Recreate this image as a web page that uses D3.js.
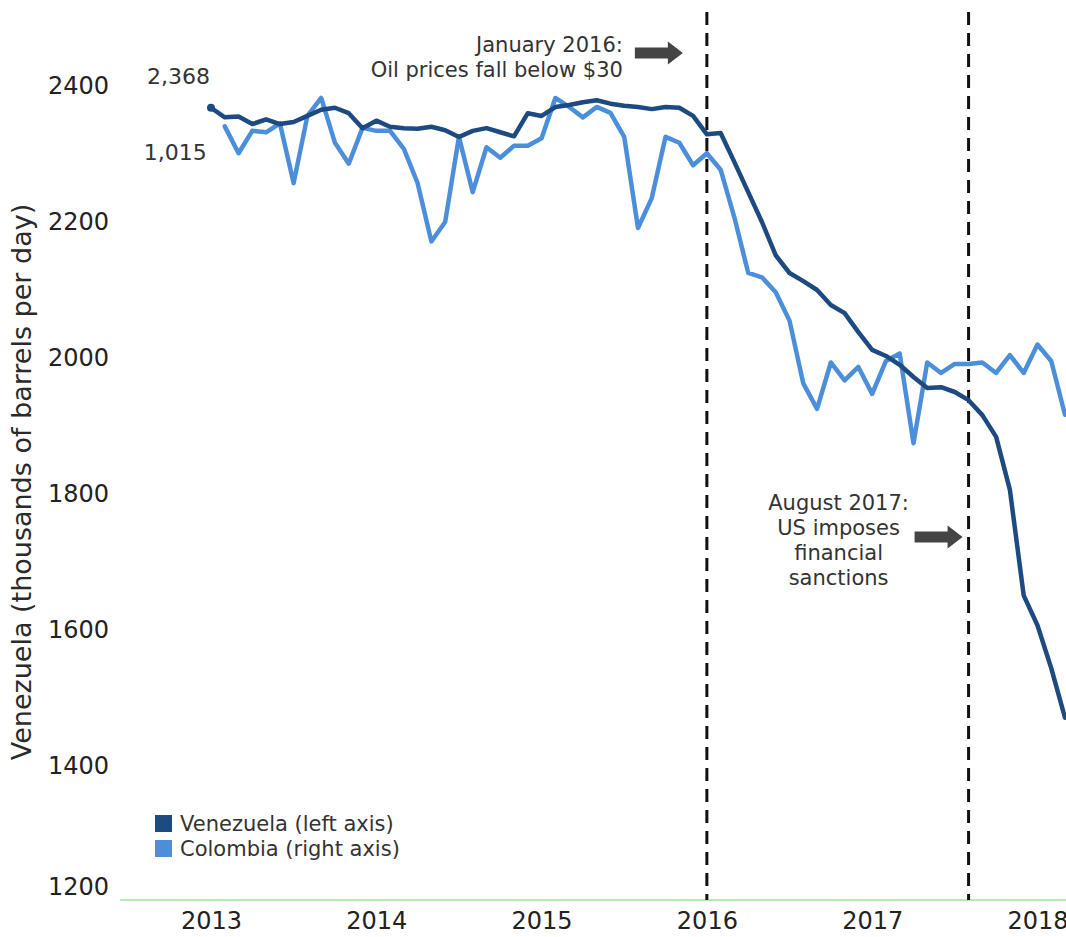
<!DOCTYPE html>
<html>
<head>
<meta charset="utf-8">
<script src="https://cdn.jsdelivr.net/npm/d3@7"></script>
<style>
  body { margin: 0; background: #fff; }
  svg { display: block; font-family: "DejaVu Sans", Verdana, sans-serif; }
</style>
</head>
<body>
<svg id="chart" width="1066" height="937"></svg>
<script>
var START_YEAR = 2013
var YEARS = [2013, 2014, 2015, 2016, 2017, 2018]
var LEFT_TICKS = [1200, 1400, 1600, 1800, 2000, 2200, 2400]

// monthly, Jan 2013 onward (thousand b/d)
var venezuela = [2368, 2354, 2355, 2344, 2351, 2344, 2347, 2356, 2365, 2368, 2360, 2338,
  2349, 2340, 2338, 2337, 2340, 2335, 2325, 2334, 2338, 2332, 2326, 2360,
  2356, 2369, 2372, 2376, 2379, 2374, 2371, 2369, 2366, 2369, 2368, 2356,
  2329, 2331, 2288, 2244, 2200, 2151, 2125, 2113, 2100, 2078, 2066, 2038,
  2012, 2003, 1990, 1972, 1956, 1957, 1950, 1938, 1916, 1884, 1806, 1651,
  1607, 1544, 1471]

var colombia = [null, 1015, 997, 1012, 1011, 1017, 977, 1022, 1034, 1004, 990, 1014,
  1012, 1012, 1000, 977, 938, 951, 1008, 971, 1001, 994, 1002, 1002,
  1007, 1034, 1028, 1021, 1028, 1024, 1008, 947, 967, 1008, 1004, 989,
  997, 986, 954, 917, 914, 904, 885, 843, 826, 857, 845, 854,
  836, 858, 863, 803, 857, 850, 856, 856, 857, 850, 862, 850,
  869, 858, 822]

var EVENTS = [
  { month: 36, lines: ["January 2016:", "Oil prices fall below $30"] },
  { month: 55, lines: ["August 2017:", "US imposes", "financial", "sanctions"] }
]

main()

function main() {
  var WIDTH = 1066
  var DARK = "#1d4a80"
  var LIGHT = "#4b8fdb"
  var TEXT = "#333"

  var svg = d3.select("#chart")

  var x = d3.scaleLinear().domain([0, 62]).range([211, 1065])
  var yLeft = d3.scaleLinear().domain([1200, 2400]).range([902, 86])
  var yRight = d3.scaleLinear().domain([496, 1042]).range([902, 86])

  // y axis (left)
  var gy = svg.append("g")
      .attr("transform", "translate(111,0)")
      .call(d3.axisLeft(yLeft).tickValues(LEFT_TICKS).tickFormat(d3.format("d"))
        .tickSize(0).tickPadding(2))
  gy.select(".domain").remove()
  gy.selectAll("text")
      .attr("font-size", 24)
      .attr("font-family", "DejaVu Sans, sans-serif")
      .attr("fill", "#222")
  gy.selectAll("text").filter(function(d) { return d === 1200 })
      .attr("dy", "-0.3em")

  svg.append("text")
      .attr("transform", "translate(31," + 482 + ") rotate(-90)")
      .attr("text-anchor", "middle")
      .attr("font-size", 27)
      .attr("fill", "#2a2a2a")
      .text("Venezuela (thousands of barrels per day)")

  // x axis
  var baseY = yLeft(1200) - 2
  svg.append("line")
      .attr("x1", 120)
      .attr("x2", WIDTH)
      .attr("y1", baseY)
      .attr("y2", baseY)
      .attr("stroke", "#9be39b")
      .attr("stroke-width", 1.5)

  var gx = svg.append("g")
      .attr("transform", "translate(0," + baseY + ")")
      .call(d3.axisBottom(x)
        .tickValues(YEARS.map(function(yr) { return (yr - START_YEAR) * 12 }))
        .tickFormat(function(d) { return START_YEAR + d / 12 })
        .tickSize(0)
        .tickPadding(12))
  gx.select(".domain").remove()
  gx.selectAll("text")
      .attr("font-size", 24)
      .attr("font-family", "DejaVu Sans, sans-serif")
      .attr("fill", "#222")

  // event lines
  EVENTS.forEach(function(ev) {
    svg.append("line")
        .attr("x1", x(ev.month))
        .attr("x2", x(ev.month))
        .attr("y1", 12)
        .attr("y2", baseY)
        .attr("stroke", "#111")
        .attr("stroke-width", 3)
        .attr("stroke-dasharray", "13,8")
  })

  // series
  var lineL = d3.line()
      .defined(function(d) { return d != null })
      .x(function(d, i) { return x(i) })
      .y(function(d) { return yLeft(d) })
  var lineR = d3.line()
      .defined(function(d) { return d != null })
      .x(function(d, i) { return x(i) })
      .y(function(d) { return yRight(d) })

  svg.append("path")
      .datum(colombia)
      .attr("fill", "none")
      .attr("stroke", LIGHT)
      .attr("stroke-width", 4.5)
      .attr("stroke-linejoin", "round")
      .attr("stroke-linecap", "round")
      .attr("d", lineR)

  svg.append("path")
      .datum(venezuela)
      .attr("fill", "none")
      .attr("stroke", DARK)
      .attr("stroke-width", 4.5)
      .attr("stroke-linejoin", "round")
      .attr("stroke-linecap", "round")
      .attr("d", lineL)

  svg.append("circle")
      .attr("cx", x(0))
      .attr("cy", yLeft(venezuela[0]))
      .attr("r", 4)
      .attr("fill", DARK)

  // first-value labels
  svg.append("text")
      .attr("x", x(0) - 64)
      .attr("y", yLeft(venezuela[0]) - 24)
      .attr("font-size", 22)
      .attr("fill", TEXT)
      .text(d3.format(",")(venezuela[0]))

  svg.append("text")
      .attr("x", x(1) - 81)
      .attr("y", yRight(colombia[1]) + 34)
      .attr("font-size", 22)
      .attr("fill", TEXT)
      .text(d3.format(",")(colombia[1]))

  // annotations
  var SHAFT_LEN = 33
  var HEAD_LEN = 15
  var SHAFT_H = 11
  var HEAD_H = 23

  function arrow(tipX, cy) {
    var p = d3.path()
    p.moveTo(tipX - HEAD_LEN - SHAFT_LEN, cy - SHAFT_H / 2)
    p.lineTo(tipX - HEAD_LEN, cy - SHAFT_H / 2)
    p.lineTo(tipX - HEAD_LEN, cy - HEAD_H / 2)
    p.lineTo(tipX, cy)
    p.lineTo(tipX - HEAD_LEN, cy + HEAD_H / 2)
    p.lineTo(tipX - HEAD_LEN, cy + SHAFT_H / 2)
    p.lineTo(tipX - HEAD_LEN - SHAFT_LEN, cy + SHAFT_H / 2)
    p.closePath()
    svg.append("path").attr("d", p.toString()).attr("fill", "#444")
  }

  var ev1 = EVENTS[0]
  var t1 = svg.append("text")
      .attr("text-anchor", "end")
      .attr("font-size", 21)
      .attr("fill", TEXT)
  ev1.lines.forEach(function(s, i) {
    t1.append("tspan")
        .attr("x", x(ev1.month) - 84)
        .attr("y", 52 + i * 25)
        .text(s)
  })
  arrow(x(ev1.month) - 24, 53)

  var ev2 = EVENTS[1]
  var t2 = svg.append("text")
      .attr("text-anchor", "middle")
      .attr("font-size", 21)
      .attr("fill", TEXT)
  ev2.lines.forEach(function(s, i) {
    t2.append("tspan")
        .attr("x", x(ev2.month) - 130)
        .attr("y", 510 + i * 25)
        .text(s)
  })
  arrow(x(ev2.month) - 6, 537)

  // legend
  var legend = svg.append("g").attr("transform", "translate(155,815)")
  var items = [["Venezuela (left axis)", DARK], ["Colombia (right axis)", LIGHT]]
  items.forEach(function(it, i) {
    legend.append("rect")
        .attr("x", 0)
        .attr("y", i * 25)
        .attr("width", 17)
        .attr("height", 17)
        .attr("fill", it[1])
    legend.append("text")
        .attr("x", 25)
        .attr("y", i * 25 + 16)
        .attr("font-size", 21)
        .attr("fill", TEXT)
        .text(it[0])
  })
}
</script>
</body>
</html>
